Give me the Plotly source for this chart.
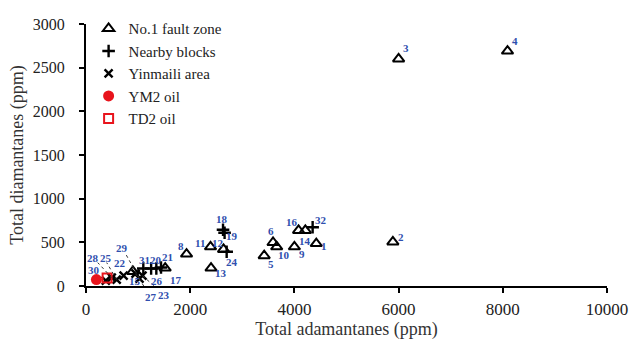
import plotly.graph_objects as go

# No.1 fault zone samples (triangles)
fault_ids = [1, 2, 3, 4, 5, 6, 8, 9, 10, 11, 12, 13, 14, 15, 16, 17]
fault_adam = [4420, 5890, 6000, 8090, 3420, 3590, 1930, 4000, 3660, 2390, 2640, 2400, 4210, 900, 4080, 1520]
fault_diam = [486, 505, 2600, 2690, 347, 498, 366, 448, 448, 448, 419, 205, 636, 167, 636, 205]

# Nearby blocks (plus)
nearby_ids = [18, 19, 20, 21, 24, 26, 31, 32]
nearby_adam = [2630, 2660, 1250, 1440, 2700, 1350, 1100, 4350]
nearby_diam = [644, 610, 200, 212, 392, 200, 200, 673]

# Yinmaili area (cross)
yml_ids = [22, 23, 25, 27, 28, 29, 30]
yml_adam = [722, 1084, 589, 951, 494, 1027, 380]
yml_diam = [118, 118, 73, 141, 96, 84, 62]

# Oils
ym2_adam, ym2_diam = [200], [73]
td2_adam, td2_diam = [405], [92]

x_ticks = [0, 2000, 4000, 6000, 8000, 10000]
x_ticktext = ["0", "2000", "4000", "6000", "8000", "10000"]
y_ticks = [0, 500, 1000, 1500, 2000, 2500, 3000]

# label placement: screen-pixel offset (dx right, dy down) from the sample
LABEL_OFFSET = {
    1: (8, 2), 2: (8, -5), 3: (7, -11), 4: (8, -10), 5: (7, 8), 6: (-2, -12),
    8: (-6, -8), 9: (8, 7), 10: (7, 8), 11: (-11, -4), 12: (-6, -6), 13: (10, 5),
    14: (0, 11), 15: (2, 10), 16: (-7, -8), 17: (11, 12),
    18: (-1, -11), 19: (7, 3), 20: (5, -9), 21: (6, -10), 24: (5, 10), 26: (1, 12),
    31: (1, -9), 32: (8, -7),
    22: (-4, -13), 23: (22, 19), 25: (-11, -22), 27: (15, 23), 28: (-19, -20),
    29: (-18, -31), 30: (-12, -11),
}
# dotted leader end points (screen-pixel offset from the sample)
LEADERS = {23: (17, 15), 25: (-10, -17), 27: (12, 18), 28: (-14, -15), 29: (-14, -25)}

SERIF = "Liberation Serif"
LABEL_BLUE = "#2f4fae"

fig = go.Figure()

fig.add_trace(go.Scatter(
    x=fault_adam, y=fault_diam, mode="markers", name="No.1 fault zone",
    marker=dict(symbol="triangle-up-open", size=10, color="black", line=dict(width=2, color="black")),
    cliponaxis=False,
))
fig.add_trace(go.Scatter(
    x=nearby_adam, y=nearby_diam, mode="markers", name="Nearby blocks",
    marker=dict(symbol="cross-thin", size=9, color="black", line=dict(width=2.4, color="black")),
    cliponaxis=False,
))
fig.add_trace(go.Scatter(
    x=yml_adam, y=yml_diam, mode="markers", name="Yinmaili area",
    marker=dict(symbol="x-thin", size=8, color="black", line=dict(width=2.4, color="black")),
    cliponaxis=False,
))
fig.add_trace(go.Scatter(
    x=ym2_adam, y=ym2_diam, mode="markers", name="YM2 oil",
    marker=dict(symbol="circle", size=11, color="#e8141c", line=dict(width=0)),
    cliponaxis=False,
))
fig.add_trace(go.Scatter(
    x=td2_adam, y=td2_diam, mode="markers", name="TD2 oil",
    marker=dict(symbol="square-open", size=9, color="#e8141c", line=dict(width=2, color="#e8141c")),
    cliponaxis=False,
))

annotations = []
shapes = []
for ids, xs, ys in ((fault_ids, fault_adam, fault_diam),
                    (nearby_ids, nearby_adam, nearby_diam),
                    (yml_ids, yml_adam, yml_diam)):
    for i, xv, yv in zip(ids, xs, ys):
        dx, dy = LABEL_OFFSET[i]
        annotations.append(dict(
            x=xv, y=yv, xref="x", yref="y", text=f"<b>{i}</b>", showarrow=False,
            xshift=dx, yshift=-dy, font=dict(family=SERIF, size=11, color=LABEL_BLUE),
        ))
        if i in LEADERS:
            lx, ly = LEADERS[i]
            shapes.append(dict(
                type="line", xref="x", yref="y", xsizemode="pixel", ysizemode="pixel",
                xanchor=xv, yanchor=yv, x0=0, y0=0, x1=lx, y1=-ly,
                line=dict(color="#333333", width=1, dash="dot"),
            ))

axis_common = dict(
    showline=True, linecolor="black", linewidth=2, mirror=False,
    ticks="outside", ticklen=5, tickwidth=2, tickcolor="black",
    showgrid=False, zeroline=False, automargin=False,
)

fig.update_layout(
    width=631, height=340,
    margin=dict(l=86, r=24, t=20, b=54),
    paper_bgcolor="white", plot_bgcolor="white",
    font=dict(family=SERIF, color="#222222"),
    xaxis=dict(range=[0, 10000], tickvals=x_ticks, ticktext=x_ticktext,
               tickfont=dict(family=SERIF, size=17, color="#222222"), ticklabelstandoff=2,
               ticklabeloverflow="allow",
               title=dict(text="Total adamantanes (ppm)", font=dict(family=SERIF, size=18, color="#333333"), standoff=5),
               **axis_common),
    yaxis=dict(range=[0, 3000], tickvals=y_ticks,
               tickfont=dict(family=SERIF, size=16, color="#222222"), ticklabelstandoff=11,
               ticklabeloverflow="allow",
               title=dict(text="Total diamantanes (ppm)", font=dict(family=SERIF, size=18, color="#333333"), standoff=4),
               **axis_common),
    legend=dict(x=0.005, y=1.045, xanchor="left", yanchor="top", bgcolor="rgba(0,0,0,0)",
                font=dict(family=SERIF, size=15, color="#222222"),
                tracegroupgap=0, borderwidth=0),
    annotations=annotations,
    shapes=shapes,
    showlegend=True,
)

fig.write_html("out.html")
